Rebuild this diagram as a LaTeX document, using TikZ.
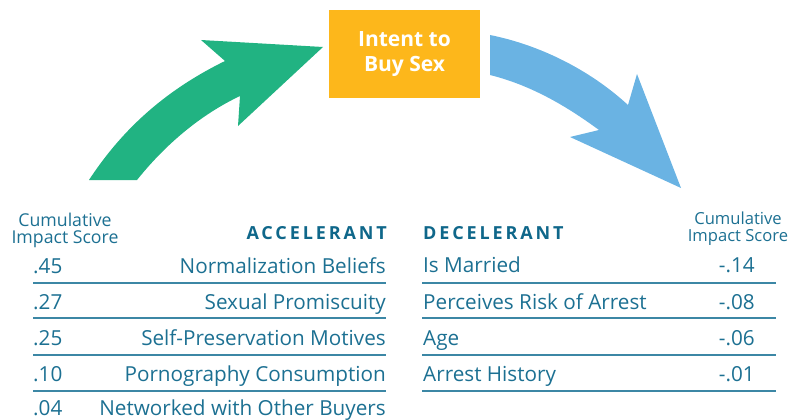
\documentclass[tikz,border=0pt]{standalone}
\usepackage{fontspec}
\setmainfont{Open Sans}
\newfontfamily\hdrfont[LetterSpace=16]{Open Sans}
\definecolor{goalc}{HTML}{FDB71B}
\definecolor{greenc}{HTML}{21B382}
\definecolor{bluec}{HTML}{6AB3E3}
\definecolor{textc}{HTML}{1C7092}
\definecolor{hdrc}{HTML}{0F678A}
\definecolor{rulec}{HTML}{3C87A5}
\begin{document}
\begin{tikzpicture}[x=1pt,y=-1pt,
  item/.style={inner sep=0pt,text=textc,font=\fontsize{20.7}{24}\selectfont},
  score/.style={inner sep=0pt,text=textc,align=center},
  hdr/.style={inner sep=0pt,text=hdrc,font=\hdrfont\bfseries\fontsize{18}{20}\selectfont},
  rowrule/.style={draw=rulec,line width=1.3pt}]
\useasboundingbox (0,0) rectangle (798,420);
% goal box
\node[fill=goalc,minimum width=151pt,minimum height=88pt,inner sep=0pt,
  text=white,font=\bfseries\fontsize{21}{25}\selectfont,align=center]
  (goal) at (404.5,54) {Intent to\\Buy Sex};
% green arrow
\fill[greenc] (89,180) .. controls (125,125) and (170,88) .. (225,61)
  -- (201,40) -- (323,47) -- (238,126) -- (240,96)
  .. controls (200,115) and (165,145) .. (137,180) -- cycle;
% blue arrow
\fill[bluec] (490,35) .. controls (540,45) and (590,70) .. (628,105)
  -- (637,74) -- (681,188) -- (570,137) -- (599,130)
  .. controls (565,105) and (530,85) .. (490,75) -- cycle;
% left column
\node[score,anchor=base,font=\fontsize{17.7}{17}\selectfont] (lcs) at (65,243) {Cumulative\\Impact Score};
\node[hdr,anchor=base east] (acc) at (387,239) {ACCELERANT};
\node[item,anchor=base east] (a1) at (386,273) {Normalization Beliefs};
\node[item,anchor=base east] (a2) at (386,309) {Sexual Promiscuity};
\node[item,anchor=base east] (a3) at (386,345) {Self-Preservation Motives};
\node[item,anchor=base east] (a4) at (386,381) {Pornography Consumption};
\node[item,anchor=base east] (a5) at (386,415) {Networked with Other Buyers};
\node[item,anchor=base west] (v1) at (33,273) {.45};
\node[item,anchor=base west] (v2) at (33,309) {.27};
\node[item,anchor=base west] (v3) at (33,345) {.25};
\node[item,anchor=base west] (v4) at (33,381) {.10};
\node[item,anchor=base west] (v5) at (33,415) {.04};
\foreach \y [count=\i] in {283,318,355,391}{
  \coordinate (ll\i) at (33,\y);
  \coordinate (lr\i) at (386,\y);
  \draw[rowrule] (ll\i) -- (lr\i);
}
% right column
\node[score,anchor=base,font=\fontsize{16.6}{17}\selectfont] (rcs) at (738,241) {Cumulative\\Impact Score};
\node[hdr,anchor=base west] (dec) at (423,239) {DECELERANT};
\node[item,anchor=base west] (d1) at (423,272) {Is Married};
\node[item,anchor=base west] (d2) at (423,309) {Perceives Risk of Arrest};
\node[item,anchor=base west] (d3) at (423,345) {Age};
\node[item,anchor=base west] (d4) at (423,381) {Arrest History};
\node[item,anchor=base east] (w1) at (755,272) {-.14};
\node[item,anchor=base east] (w2) at (755,309) {-.08};
\node[item,anchor=base east] (w3) at (755,345) {-.06};
\node[item,anchor=base east] (w4) at (755,381) {-.01};
\foreach \y [count=\i] in {283,318,355,391}{
  \coordinate (rl\i) at (422,\y);
  \coordinate (rr\i) at (776,\y);
  \draw[rowrule] (rl\i) -- (rr\i);
}
\end{tikzpicture}
\end{document}
